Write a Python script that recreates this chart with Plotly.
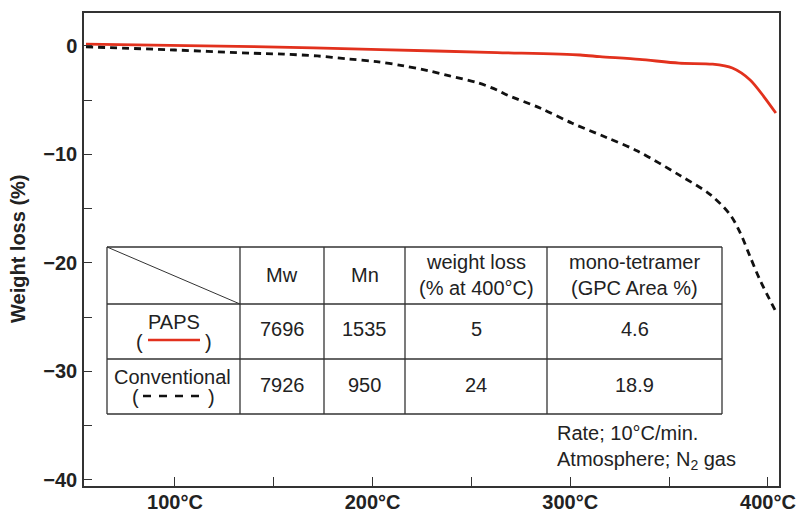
import plotly.graph_objects as go

# ---- data ----
temp_paps = [55, 140, 204, 263, 305, 315, 335, 355, 372, 382, 391, 398, 404]
loss_paps = [0.15, -0.08, -0.35, -0.63, -0.85, -1.0, -1.25, -1.6, -1.7, -2.05, -3.15, -4.7, -6.2]

temp_conv = [55, 100, 140, 155, 172, 188, 202, 215, 228, 239, 253, 263, 268, 285, 301, 318, 334,
             355, 371, 381, 386, 391, 396, 404]
loss_conv = [-0.1, -0.39, -0.69, -0.77, -0.94, -1.22, -1.46, -1.83, -2.29, -2.78, -3.4, -4.08, -4.53,
             -5.76, -7.14, -8.43, -9.7, -11.9, -13.74, -15.6, -17.25, -19.44, -21.59, -24.5]

x_ticks = [100, 200, 300, 400]
x_labels = ["100°C", "200°C", "300°C", "400°C"]
x_minor = [50, 150, 250, 350]
y_ticks = [0, -10, -20, -30, -40]
y_labels = ["0", "\u221210", "\u221220", "\u221230", "\u221240"]
y_minor = [-5, -15, -25, -35]

table_header = ["", "Mw", "Mn", ["weight loss", "(% at 400°C)"], ["mono-tetramer", "(GPC Area %)"]]
table_names = ["PAPS", "Conventional"]
table_rows = [["7696", "1535", "5", "4.6"],
              ["7926", "950", "24", "18.9"]]
note_lines = ["Rate; 10°C/min.", "Atmosphere; N<sub>2</sub> gas"]

# ---- layout geometry (pixels in the 798x513 page) ----
W, H = 798, 513
X0, X1, Y0, Y1 = 84, 779, 13, 486
def px(x):
    return (x - X0) / (X1 - X0)
def py(y):
    return (Y1 - y) / (Y1 - Y0)

RED = "#e2311d"
INK = "#222222"
FONT = "Liberation Sans, Arial, Helvetica, sans-serif"

fig = go.Figure()
fig.add_trace(go.Scatter(x=temp_paps, y=loss_paps, mode="lines",
                         line=dict(color=RED, width=2.8, shape="spline", smoothing=0.8),
                         showlegend=False, hoverinfo="skip"))
fig.add_trace(go.Scatter(x=temp_conv, y=loss_conv, mode="lines",
                         line=dict(color="#111111", width=2.8, dash="7px,5px", shape="spline", smoothing=0.9),
                         showlegend=False, hoverinfo="skip"))

shapes = []
annots = []
col_x = [107, 240, 324, 405, 547, 722]
row_y = [247, 304, 359, 414]
lw = 1.3
lc = "#333333"
# table grid
for x in col_x:
    shapes.append(dict(type="line", xref="paper", yref="paper", x0=px(x), x1=px(x),
                       y0=py(row_y[0]), y1=py(row_y[-1]), line=dict(color=lc, width=lw)))
for y in row_y:
    shapes.append(dict(type="line", xref="paper", yref="paper", x0=px(col_x[0]), x1=px(col_x[-1]),
                       y0=py(y), y1=py(y), line=dict(color=lc, width=lw)))
# diagonal in corner cell
shapes.append(dict(type="line", xref="paper", yref="paper", x0=px(col_x[0]), x1=px(col_x[1]),
                   y0=py(row_y[0]), y1=py(row_y[1]), line=dict(color=lc, width=1)))

tf = dict(family=FONT, size=20, color=INK)
def txt(x, y, s, **kw):
    d = dict(xref="paper", yref="paper", x=px(x), y=py(y), text=s, showarrow=False,
             font=tf, xanchor="center", yanchor="middle")
    d.update(kw)
    annots.append(d)

# header
for i in range(1, 5):
    cx = (col_x[i] + col_x[i + 1]) / 2
    h = table_header[i]
    if isinstance(h, list):
        txt(cx, 262, h[0])
        txt(cx, 288, h[1])
    else:
        txt(cx, 275, h)
# rows
row_centers = [329, 385]
for r in range(2):
    for c in range(4):
        cx = (col_x[c + 1] + col_x[c + 2]) / 2
        txt(cx, row_centers[r], table_rows[r][c])
name_cx = (col_x[0] + col_x[1]) / 2
txt(name_cx, 322, table_names[0])
txt(name_cx - 1, 377, table_names[1])
# legend samples
txt(145, 342, "(", xanchor="right")
txt(203, 342, ")", xanchor="left")
shapes.append(dict(type="line", xref="paper", yref="paper", x0=px(148), x1=px(200),
                   y0=py(340), y1=py(340), line=dict(color=RED, width=2.5)))
txt(141, 397, "(", xanchor="right")
txt(206, 397, ")", xanchor="left")
shapes.append(dict(type="line", xref="paper", yref="paper", x0=px(143), x1=px(205),
                   y0=py(396), y1=py(396), line=dict(color="#111111", width=2.5, dash="8px,8px")))
# notes
txt(555, 433, note_lines[0], xanchor="left")
txt(555, 460, note_lines[1], xanchor="left")
# y-axis title
annots.append(dict(xref="paper", yref="paper", x=px(18), y=py(249), text="<b>Weight loss (%)</b>",
                   textangle=-90, showarrow=False, xanchor="center", yanchor="middle",
                   font=dict(family=FONT, size=20, color=INK)))

fig.update_layout(
    width=W, height=H,
    margin=dict(l=X0, r=W - X1, t=Y0, b=H - Y1, pad=0, autoexpand=False),
    paper_bgcolor="white", plot_bgcolor="white",
    shapes=shapes, annotations=annots,
    font=dict(family=FONT, color=INK),
)
fig.update_xaxes(range=[54.0, 405.6], tickvals=x_ticks, ticktext=x_labels, automargin=False,
                 ticks="inside", ticklen=9, tickwidth=1.3, tickcolor=lc,
                 minor=dict(tickvals=x_minor, ticks="inside", ticklen=9, tickwidth=1.3, tickcolor=lc,
                            showgrid=False),
                 showline=True, linecolor=lc, linewidth=1.5, mirror=True,
                 showgrid=False, zeroline=False, ticklabelstandoff=-3,
                 tickfont=dict(family=FONT, size=20, color=INK, weight="bold"))
fig.update_yaxes(range=[-40.57, 3.02], tickvals=y_ticks, ticktext=y_labels, automargin=False,
                 ticks="inside", ticklen=8, tickwidth=1.3, tickcolor=lc,
                 minor=dict(tickvals=y_minor, ticks="inside", ticklen=8, tickwidth=1.3, tickcolor=lc,
                            showgrid=False),
                 showline=True, linecolor=lc, linewidth=1.5, mirror=True,
                 showgrid=False, zeroline=False, ticklabelstandoff=1,
                 tickfont=dict(family=FONT, size=20, color=INK, weight="bold"))

fig.write_html("out.html")
